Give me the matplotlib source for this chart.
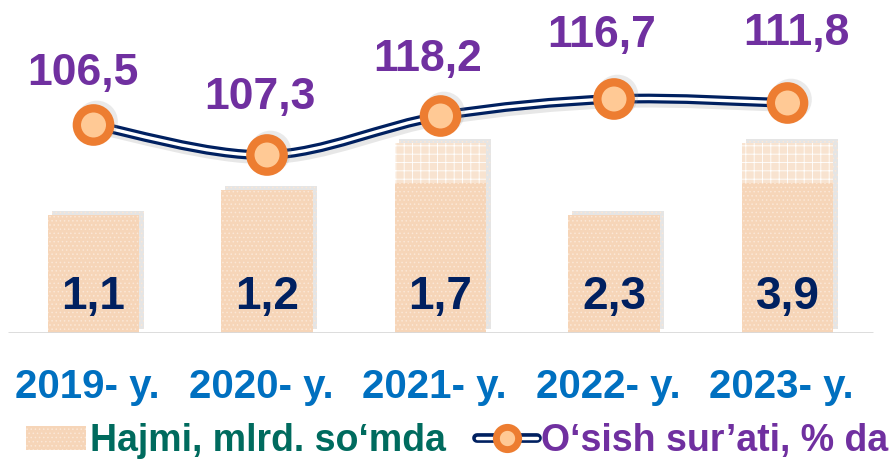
import numpy as np
import matplotlib
matplotlib.use("Agg")
import matplotlib.pyplot as plt
from matplotlib.path import Path
from matplotlib.patches import PathPatch, Patch
from matplotlib.lines import Line2D
from matplotlib.legend_handler import HandlerTuple
import matplotlib.patheffects as pe
import matplotlib.transforms as mtransforms

# data
years = ["2019- y.", "2020- y.", "2021- y.", "2022- y.", "2023- y."]
volume = [1.1, 1.2, 1.7, 2.3, 3.9]           # Hajmi, mlrd. so'mda
growth = [106.5, 107.3, 118.2, 116.7, 111.8]  # O'sish sur'ati, %
# heights as drawn in the picture (not to scale with the values)
bar_height = [118, 143, 190, 118, 190]
band_height = [0, 0, 40, 0, 40]
line_level = [208, 178, 217, 234, 230]

# label nudges (px) to follow the original layout
label_dx = [-11, -7, -13, -12, 9]
label_dy = [51, 58, 56, 63, 69]

plt.rcParams["font.family"] = ["Liberation Sans", "DejaVu Sans"]
plt.rcParams["hatch.linewidth"] = 0.6

NAVY = "#002060"
PURPLE = "#7030A0"
BLUE = "#0070C0"
TEAL = "#006B5E"
ORANGE = "#ED7D31"
PEACH = "#FFC995"
BAR = "#F6D5B8"

fig = plt.figure(figsize=(8.93, 4.59), dpi=100)
base = 333 / 459
ax = fig.add_axes([0, 1 - base, 1, base])
ax.set_xlim(-0.539, 4.608)
ax.set_ylim(0, 333)
for s in ax.spines.values():
    s.set_visible(False)
ax.set_yticks([])

x = np.arange(len(years))
shadow = [pe.SimplePatchShadow(offset=(3, 3), shadow_rgbFace="#999999", alpha=0.25), pe.Normal()]

bars = ax.bar(x, bar_height, width=0.53, color=BAR, edgecolor="#FBE7D6", linewidth=0,
              hatch="....", zorder=2)
for b in bars:
    b.set_path_effects(shadow)
ax.bar(x, band_height, width=0.53, bottom=np.array(bar_height) - np.array(band_height),
       color="#F8E3D0", edgecolor="#FFFFFF", linewidth=0, hatch="++", zorder=2.1)

ax.hlines(0, -0.493, 4.49, color="#D9D9D9", lw=2, zorder=3)

for xi, v in zip(x, volume):
    ax.text(xi, 36, f"{v:.1f}".replace(".", ","), ha="center", va="center",
            fontsize=33, fontweight="bold", color=NAVY, zorder=5)

# smooth line through the points (Catmull-Rom as cubic Bezier)
pts = np.column_stack([x, line_level]).astype(float)
verts = [pts[0]]
codes = [Path.MOVETO]
n = len(pts)
for i in range(n - 1):
    p0 = pts[max(i - 1, 0)]
    p1 = pts[i]
    p2 = pts[i + 1]
    p3 = pts[min(i + 2, n - 1)]
    verts += [p1 + (p2 - p0) / 6, p2 - (p3 - p1) / 6, p2]
    codes += [Path.CURVE4] * 3
curve = Path(verts, codes)
ax.add_patch(PathPatch(curve, fill=False, edgecolor=NAVY, lw=7, zorder=6,
                       path_effects=[pe.SimpleLineShadow(offset=(2, -3), shadow_color="#888888", alpha=0.2),
                                     pe.Normal()]))
ax.add_patch(PathPatch(curve, fill=False, edgecolor="white", lw=2.4, zorder=6.5))
ax.plot(x, line_level, ls="none", marker="o", ms=24, mew=6, mfc=PEACH, mec=ORANGE, zorder=7,
        path_effects=[pe.SimpleLineShadow(offset=(2.5, 2.5), shadow_color="#999999", alpha=0.2),
                      pe.Normal()])

for xi, yl, g, dx, dy in zip(x, line_level, growth, label_dx, label_dy):
    ax.annotate(f"{g:.1f}".replace(".", ","), (xi, yl), xytext=(dx * 0.72, dy * 0.72),
                textcoords="offset points", ha="center", va="center",
                fontsize=32, fontweight="bold", color=PURPLE, zorder=8)

ax.set_xticks(x, years)
ax.tick_params(axis="x", length=0, pad=25)
for lab in ax.get_xticklabels():
    lab.set_fontsize(29)
    lab.set_fontweight("bold")
    lab.set_color(BLUE)
    lab.set_transform(lab.get_transform() + mtransforms.ScaledTranslation(-6 / 100, 0, fig.dpi_scale_trans))

# legend
h_bar = Patch(facecolor=BAR, edgecolor="#FBE7D6", linewidth=0, hatch="....")
h_line_a = Line2D([], [], color=NAVY, lw=7, solid_capstyle="round")
h_line_b = Line2D([], [], color="white", lw=2.5, solid_capstyle="round")
h_line_c = Line2D([], [], ls="none", marker="o", ms=16, mew=5, mfc=PEACH, mec=ORANGE)
leg = fig.legend([h_bar, (h_line_a, h_line_b, h_line_c)],
                 ["Hajmi, mlrd. so\u2018mda", "O\u2018sish sur\u2019ati, % da"],
                 handler_map={tuple: HandlerTuple(ndivide=1, pad=0)},
                 loc="center", bbox_to_anchor=(457 / 893, 1 - 441 / 459), ncol=2, frameon=False,
                 prop={"size": 27, "weight": "bold"}, handlelength=1.6, handleheight=0.6,
                 handletextpad=0.1, columnspacing=0.85, borderpad=0, borderaxespad=0)
for t, c in zip(leg.get_texts(), [TEAL, PURPLE]):
    t.set_color(c)

fig.savefig("out.png", dpi=100)
